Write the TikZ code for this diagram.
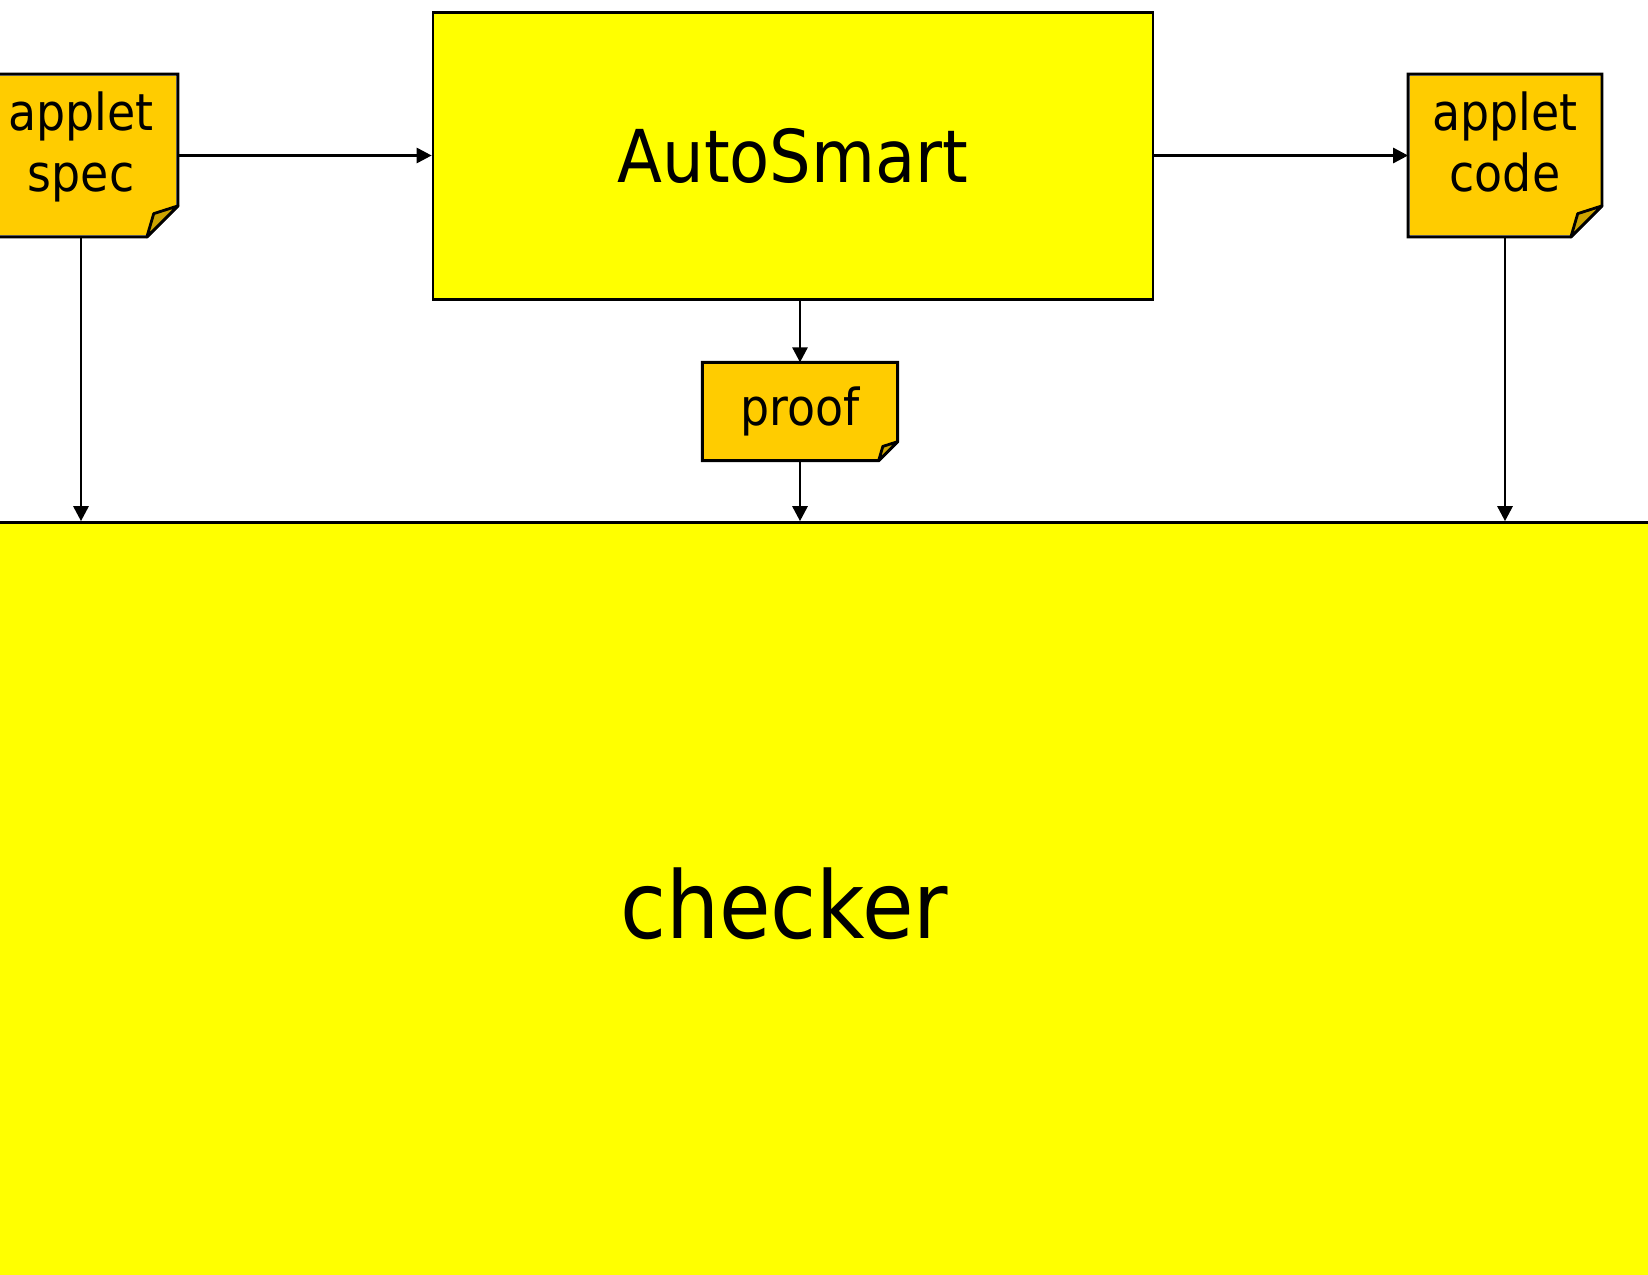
\documentclass[tikz,border=0pt]{standalone}
\usepackage{fontspec}
\setmainfont{DejaVu Sans Condensed}
\usetikzlibrary{arrows.meta}

\definecolor{boxyellow}{HTML}{FFFF00}
\definecolor{notegold}{HTML}{FFCC00}
\definecolor{foldgold}{HTML}{CCA300}

% folded corner on a note node: #1 node name, #2 size of the fold
\newcommand{\dogear}[2]{%
  \fill[white] ([xshift=-#2]#1.south east) -- (#1.south east) -- ([yshift=#2]#1.south east) -- cycle;
  \draw (#1.north west) -- (#1.north east) -- ([yshift=#2]#1.south east)
        -- ([xshift=-#2]#1.south east) -- (#1.south west) -- cycle;
  \filldraw[fill=foldgold, line join=round] ([xshift=-#2]#1.south east)
        -- ([xshift=-0.78*#2,yshift=0.75*#2]#1.south east) -- ([yshift=#2]#1.south east) -- cycle;
}

\tikzset{
  bigbox/.style={draw, fill=boxyellow, inner sep=0pt},
  notebox/.style={fill=notegold, inner sep=0pt, align=center,
    font=\fontsize{29}{35.2}\selectfont},
  twolines/.style={text height=48pt, text depth=6.6pt},
  flow/.style={-{Triangle[length=8.5pt,width=8.5pt]}}
}

\begin{document}
\begin{tikzpicture}[x=0.02cm, y=-0.02cm, line width=1.6pt]
	\useasboundingbox (0,0) rectangle (1648,1274);
	
	\node[bigbox, minimum width=35.2cm, minimum height=15.26cm,
	      font=\fontsize{53}{64}\selectfont] (checker) at (784,904) {checker};
	\node[bigbox, minimum width=14.4cm, minimum height=5.74cm,
	      font=\fontsize{41.5}{50}\selectfont] (autosmart) at (793,156) {AutoSmart};
	
	\node[notebox, twolines, minimum width=3.82cm, minimum height=3.2cm] (spec) at (81,155.5) {applet\\spec};
	\dogear{spec}{0.62cm}
	\node[notebox, twolines, minimum width=3.82cm, minimum height=3.2cm] (code) at (1505,155.5) {applet\\code};
	\dogear{code}{0.62cm}
	\node[notebox, minimum width=3.85cm, minimum height=1.91cm] (proof) at (800,411.5) {proof};
	\dogear{proof}{0.38cm}
	
	\draw[flow] (spec.east) -- (autosmart.west |- spec.east);
	\draw[flow] (autosmart.east |- code.west) -- (code.west);
	\draw[flow] (proof.north |- autosmart.south) -- (proof.north);
	
	\draw[flow] (spec.south) -- (spec.south |- checker.north);
	\draw[flow] (proof.south) -- (proof.south |- checker.north);
	\draw[flow] (code.south) -- (code.south |- checker.north);
\end{tikzpicture}
\end{document}
